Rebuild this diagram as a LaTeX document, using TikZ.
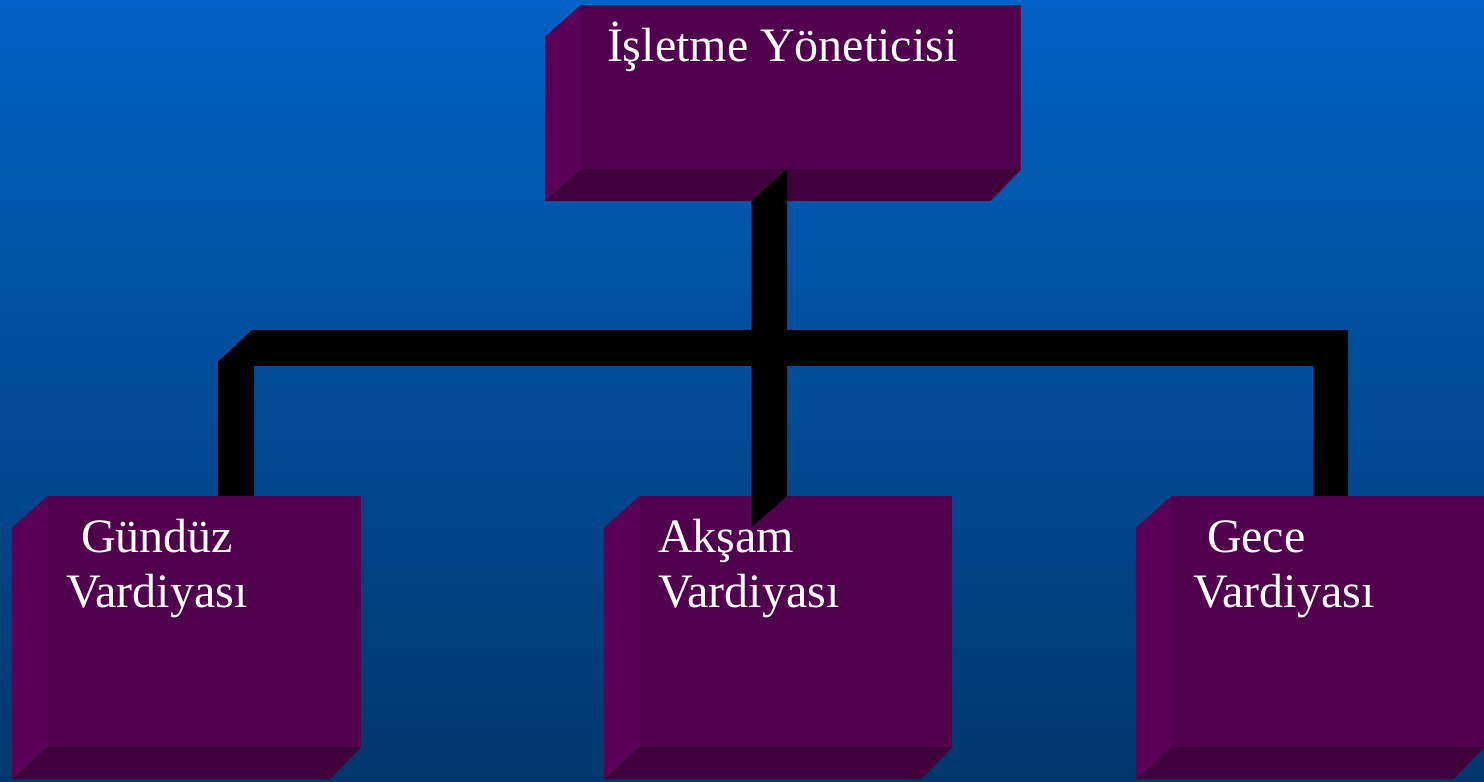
\documentclass[tikz,border=0pt]{standalone}
\usepackage{fontspec}
\setmainfont{Liberation Serif}
\usetikzlibrary{calc}
\definecolor{bgtop}{RGB}{0,98,196}
\definecolor{bgbot}{RGB}{0,54,108}
\definecolor{faceplum}{RGB}{80,0,76}
\definecolor{sideplum}{RGB}{90,0,86}
\definecolor{baseplum}{RGB}{64,0,60}
\tikzset{
  face/.style={fill=faceplum, draw=none, inner sep=0pt, minimum width=#1},
  sideface/.style={fill=sideplum},
  baseface/.style={fill=baseplum},
  bar/.style={fill=black},
  caption/.style={text=white, inner sep=0pt, align=left,
    font=\fontsize{48}{55}\selectfont},
}
% front face plus bevelled left and bottom faces
\newcommand{\bevel}[1]{%
  \fill[sideface] (#1.north west) -- ++(-36,32) -- ($(#1.south west)+(-36,32)$) -- (#1.south west) -- cycle;
  \fill[baseface] (#1.south west) -- ++(-36,32) -- ($(#1.south east)+(-31,32)$) -- (#1.south east) -- cycle;
}
\begin{document}
\begin{tikzpicture}[x=1pt,y=-1pt]
\useasboundingbox (0,0) rectangle (1484,782);
\shade[top color=bgtop, bottom color=bgbot] (0,0) rectangle (1484,782);

% boxes
\node[face=440pt, minimum height=164pt] (mgr) at (801,87) {};
\node[face=313pt, minimum height=251pt] (day) at (204.5,621.5) {};
\node[face=312pt, minimum height=251pt] (eve) at (796,621.5) {};
\node[face=312pt, minimum height=251pt] (night) at (1328,621.5) {};
\bevel{mgr}
\bevel{day}
\bevel{eve}
\bevel{night}

% connectors
\coordinate (busL) at ($(day.north)+(13.5,-134)$);
\coordinate (busR) at ($(night.north)+(20,-166)$);
\fill[bar] (busL) -- ++(34,-32) -- (busR) -- (busR |- night.north)
  -- ++(-35,0) -- ++(0,-130) -- ($(day.north)+(49.5,-130)$) -- ($(day.north)+(49.5,0)$)
  -- ($(day.north)+(13.5,0)$) -- cycle;
\fill[bar] ($(mgr.south)+(-14,0)$) -- ($(eve.north)+(-9,0)$) -- ++(-36,32)
  -- ($(mgr.south)+(-50,32)$) -- cycle;

% labels
\node[caption, anchor=base west] (mgrtext) at ($(mgr.north west)+(26,57)$) {İşletme Yöneticisi};
\node[caption, anchor=base west] (daytext) at ($(day.north west)+(18,112)$) {\hspace*{15pt}Gündüz\\Vardiyası};
\node[caption, anchor=base west] (evetext) at ($(eve.north west)+(18,112)$) {Akşam\\Vardiyası};
\node[caption, anchor=base west] (nighttext) at ($(night.north west)+(21,112)$) {\hspace*{14pt}Gece\\Vardiyası};
\end{tikzpicture}
\end{document}
